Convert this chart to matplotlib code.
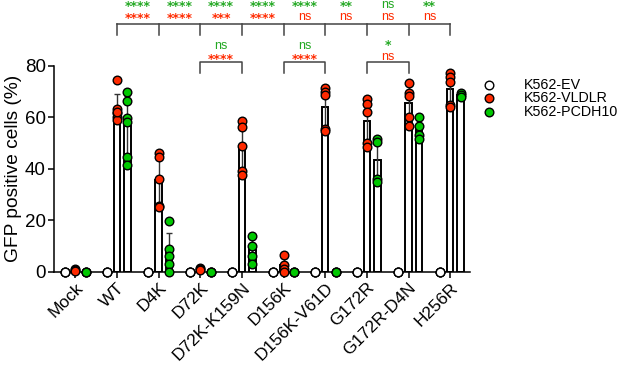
import numpy as np
import matplotlib
matplotlib.use("Agg")
import matplotlib.pyplot as plt
from matplotlib.lines import Line2D

plt.rcParams["font.family"] = ["Liberation Sans", "DejaVu Sans"]

groups = ["Mock", "WT", "D4K", "D72K", "D72K-K159N", "D156K", "D156K-V61D",
          "G172R", "G172R-D4N", "H256R"]
ev = [[0, 0, 0]] * len(groups)
vldlr = [
    [1.0, 0.6, 0.3],
    [74.5, 63, 61.5, 60, 59, 62],
    [46, 44.7, 36, 25.5, 25],
    [1.5, 1.0, 0.5],
    [58.5, 56, 49, 39, 37.5],
    [6.5, 2.5, 1, 0],
    [71.2, 69.9, 68.6, 55.3, 54.6],
    [67, 65, 62.1, 49.9, 48.5],
    [73.2, 69.3, 68.2, 60.2, 56.6],
    [77, 75.5, 73.5, 64.7, 64],
]
pcdh10 = [
    [0, 0, 0],
    [69.7, 66.3, 59.6, 58.3, 44.4, 41.3],
    [19.5, 9, 6, 3, 0],
    [0, 0, 0],
    [14, 10, 6, 3],
    [0, 0, 0],
    [0, 0, 0],
    [51.5, 50.5, 36, 35],
    [60, 56.5, 53, 51.5],
    [69.5, 68.8, 67.7],
]
series_names = ["K562-EV", "K562-VLDLR", "K562-PCDH10"]

# significance vs WT (one per mutant)
sig_pcdh10 = ["****", "****", "****", "****", "****", "**", "ns", "**"]
sig_vldlr = ["****", "****", "***", "****", "ns", "ns", "ns", "ns"]
# pairwise brackets: (group a, group b, pcdh10 label, vldlr label)
pairs = [(3, 4, "ns", "****"), (5, 6, "ns", "****"), (7, 8, "*", "ns")]

RED = "#ff2a00"
GREEN = "#00c800"
GREEN_TXT = "#22a822"
fills = ["white", RED, GREEN]

fig = plt.figure(figsize=(6.25, 3.68), dpi=100)
ax = fig.add_axes([0.0856, 0.2617, 0.752 - 0.0856, 0.8215 - 0.2617])

centers = np.arange(len(groups)) * 4
for k, data in enumerate([ev, vldlr, pcdh10]):
    xs = centers + (k - 1)
    means = [np.mean(d) for d in data]
    sds = [np.std(d, ddof=1) for d in data]
    ax.bar(xs, means, width=0.62, color="white", edgecolor="black",
           linewidth=1.4, zorder=2)
    ax.errorbar(xs, means, yerr=sds, fmt="none", ecolor="#333333",
                elinewidth=1.0, capsize=2.5, capthick=1.0, zorder=3)
    for x, d in zip(xs, data):
        ax.plot([x] * len(d), d, "o", ms=6.2, mfc=fills[k], mec="black",
                mew=1.0, clip_on=False, zorder=4)

ax.set_xlim(-2.1, 37.9)
ax.set_ylim(0, 80)
ax.set_yticks([0, 20, 40, 60, 80])
ax.set_xticks(centers)
ax.set_xticklabels(groups, rotation=45, ha="right", rotation_mode="anchor",
                   fontsize=12.5)
ax.tick_params(axis="y", labelsize=13.5, width=1.1, length=4, pad=1.5)
ax.tick_params(axis="x", width=1.1, length=4, pad=2)
ax.set_ylabel("GFP positive cells (%)", fontsize=13.8, labelpad=2)
for s in ["top", "right"]:
    ax.spines[s].set_visible(False)
for s in ["left", "bottom"]:
    ax.spines[s].set_linewidth(1.1)


def sig_text(x, y_star, y_ns, label, color):
    if "*" in label:
        ax.text(x, y_star, label, color=color, ha="center", va="baseline",
                fontsize=9, fontweight="bold", family="DejaVu Sans",
                clip_on=False)
    else:
        ax.text(x, y_ns, label, color=color, ha="center", va="baseline",
                fontsize=9, clip_on=False)


# top bracket (WT vs each mutant)
lc = "#444444"
ax.plot([centers[1], centers[-1]], [96.1, 96.1], color=lc, lw=1.1, clip_on=False)
for c in centers[1:]:
    ax.plot([c, c], [96.1, 91.9], color=lc, lw=1.1, clip_on=False)
for i, (g, r) in enumerate(zip(sig_pcdh10, sig_vldlr)):
    xm = (centers[i + 1] + centers[i + 2]) / 2
    sig_text(xm, 101.8, 102.3, g, GREEN_TXT)
    sig_text(xm, 96.9, 97.6, r, RED)

# pairwise brackets
for a, b, g, r in pairs:
    xa, xb = centers[a], centers[b]
    ax.plot([xa, xa, xb, xb], [77.3, 81.6, 81.6, 77.3], color=lc, lw=1.1,
            clip_on=False)
    xm = (xa + xb) / 2
    sig_text(xm, 86.5, 86.4, g, GREEN_TXT)
    sig_text(xm, 81.2, 82.3, r, RED)

# legend
for j, (name, f) in enumerate(zip(series_names, fills)):
    yy = 1 - (85 + 13.4 * j) / 368
    fig.add_artist(Line2D([489 / 625], [yy], ls="none", marker="o", ms=6.2,
                          mfc=f, mec="black", mew=1.0,
                          transform=fig.transFigure))
    fig.text(524 / 625, yy, name, fontsize=10.3, va="center", ha="left")

fig.savefig("out.png", dpi=100)
